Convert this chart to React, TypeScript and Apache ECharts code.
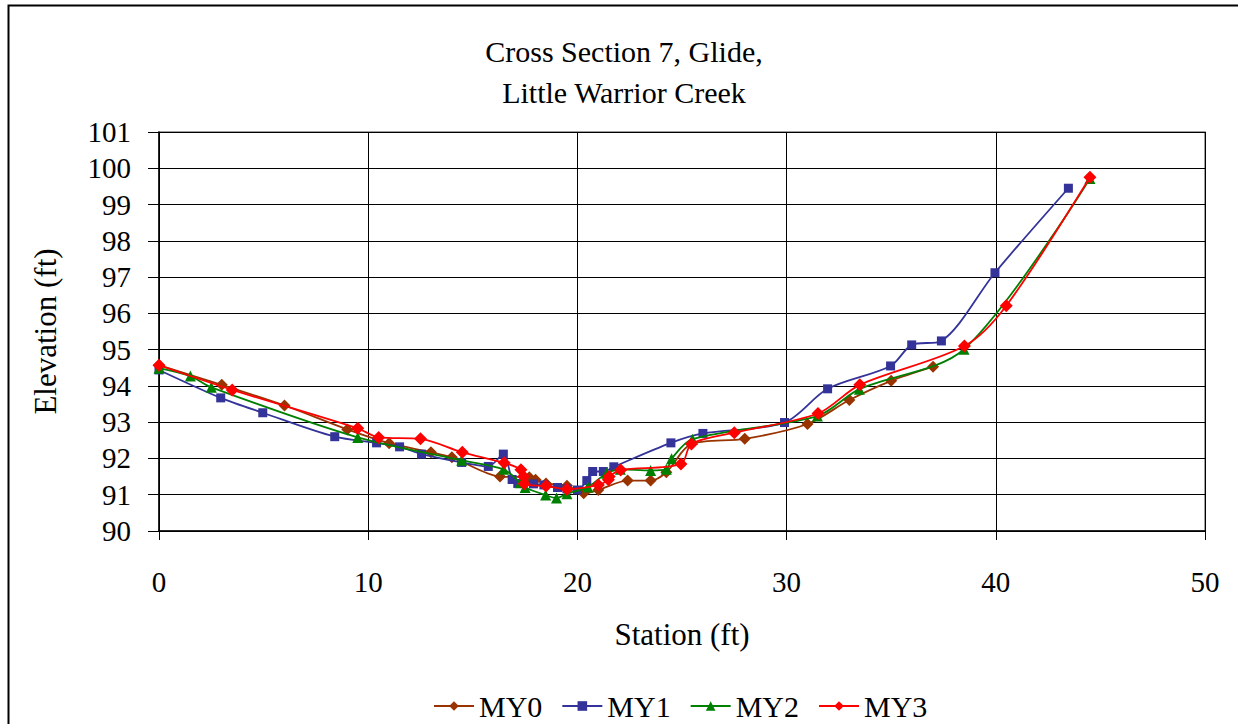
import React, { useEffect, useRef } from "react";
import * as echarts from "echarts";

const titleLines = ["Cross Section 7, Glide,", "Little Warrior Creek"];
const xTickMin = 0;
const xTickMax = 50;
const yTickMin = 90;
const yTickMax = 101;

const my0X = [0, 3, 6, 9, 11, 13, 14, 16.3, 17.7, 18, 18.5, 19.5, 20.3, 21, 22.4, 23.5, 24.25, 25.45, 28, 31, 33, 35, 37];
const my0Y = [94.57, 94.03, 93.46, 92.8, 92.42, 92.17, 92.03, 91.5, 91.48, 91.41, 91.31, 91.25, 91.04, 91.13, 91.39, 91.39, 91.62, 92.4, 92.54, 92.95, 93.61, 94.14, 94.53];

const my1X = [0, 2.95, 4.96, 8.4, 10.4, 11.5, 12.55, 14.47, 15.74, 16.46, 16.88, 17.15, 17.9, 18.4, 19.05, 19.5, 20.0, 20.45, 20.73, 21.24, 21.74, 24.47, 26, 29.9, 31.96, 34.97, 35.98, 37.4, 39.96, 43.47];
const my1Y = [94.44, 93.67, 93.26, 92.6, 92.43, 92.32, 92.12, 91.89, 91.78, 92.12, 91.42, 91.31, 91.3, 91.27, 91.2, 91.16, 91.13, 91.39, 91.64, 91.64, 91.77, 92.43, 92.69, 92.99, 93.92, 94.55, 95.13, 95.24, 97.12, 99.45];

const my2X = [0, 1.5, 2.5, 9.5, 14.47, 16.47, 17.27, 17.5, 18.48, 19.0, 19.5, 20.5, 21.4, 22.05, 23.5, 24.25, 24.5, 25.5, 31.47, 33.48, 38.48, 44.5];
const my2Y = [94.49, 94.27, 93.96, 92.58, 91.95, 91.7, 91.33, 91.2, 90.99, 90.91, 91.03, 91.21, 91.59, 91.7, 91.67, 91.7, 91.99, 92.53, 93.17, 93.91, 95.01, 99.72];

const my3X = [0, 3.5, 9.5, 10.5, 12.5, 14.5, 16.5, 17.3, 17.43, 17.46, 18.5, 19.5, 21, 21.48, 21.52, 22.07, 24.95, 25.45, 27.5, 31.5, 33.5, 38.5, 40.5, 44.5];
const my3Y = [94.57, 93.89, 92.83, 92.58, 92.54, 92.17, 91.88, 91.69, 91.5, 91.3, 91.24, 91.15, 91.27, 91.41, 91.5, 91.68, 91.85, 92.4, 92.71, 93.24, 94.03, 95.1, 96.21, 99.75];

const seriesNames = ["MY0", "MY1", "MY2", "MY3"];
const seriesColors = ["#993300", "#333399", "#008000", "#FF0000"];
const seriesSymbols = ["diamond", "rect", "triangle", "diamond"];

const zip = (xs: number[], ys: number[]) => xs.map((x, i) => [x, ys[i]]);

export default function App() {
  const ref = useRef<HTMLDivElement>(null);
  useEffect(() => {
    if (!ref.current) return;
    const chart = echarts.init(ref.current, null, { renderer: "svg" });
    const font = "Liberation Serif";
    const data = [zip(my0X, my0Y), zip(my1X, my1Y), zip(my2X, my2Y), zip(my3X, my3Y)];
    const sizes = [12, 9, 11, 13];
    chart.setOption({
      animation: false,
      backgroundColor: "#ffffff",
      textStyle: { fontFamily: font, color: "#000" },
      title: {
        text: titleLines.join("\n"),
        left: 619,
        top: 26,
        textAlign: "center",
        textStyle: { fontFamily: font, fontSize: 30, fontWeight: "normal", lineHeight: 41, color: "#000" },
      },
      graphic: [
        {
          type: "rect",
          shape: { x: 8.5, y: 5.5, width: 1260, height: 760 },
          style: { fill: "none", stroke: "#000", lineWidth: 2 },
          silent: true,
        },
      ],
      legend: {
        bottom: -2,
        left: 428,
        itemWidth: 40,
        itemHeight: 12,
        itemGap: 19,
        textStyle: { fontFamily: font, fontSize: 30, color: "#000" },
        data: seriesNames,
      },
      grid: {
        left: 159,
        right: 33,
        top: 132,
        bottom: 193,
        show: true,
        borderColor: "#808080",
        borderWidth: 1.5,
      },
      xAxis: {
        type: "value",
        min: xTickMin,
        max: xTickMax,
        interval: 10,
        name: "Station (ft)",
        nameLocation: "middle",
        nameGap: 88,
        nameTextStyle: { fontFamily: font, fontSize: 31, color: "#000" },
        axisLine: { lineStyle: { color: "#000", width: 1.5 } },
        axisTick: { show: true, length: 9, inside: false, lineStyle: { color: "#000" } },
        axisLabel: { fontFamily: font, fontSize: 29, color: "#000", margin: 36 },
        splitLine: { show: true, lineStyle: { color: "#000", width: 1 } },
      },
      yAxis: {
        type: "value",
        min: yTickMin,
        max: yTickMax,
        interval: 1,
        name: "Elevation (ft)",
        nameLocation: "middle",
        nameGap: 98,
        nameTextStyle: { fontFamily: font, fontSize: 31, color: "#000" },
        axisLine: { show: true, lineStyle: { color: "#000", width: 1.5 } },
        axisTick: { show: true, length: 11, lineStyle: { color: "#000" } },
        axisLabel: { fontFamily: font, fontSize: 29, color: "#000", margin: 28 },
        splitLine: { show: true, lineStyle: { color: "#000", width: 1 } },
      },
      series: seriesNames.map((name, i) => ({
        name,
        type: "line",
        data: data[i],
        smooth: 0.3,
        symbol: seriesSymbols[i],
        symbolSize: sizes[i],
        lineStyle: { color: seriesColors[i], width: 1.8 },
        itemStyle: { color: seriesColors[i] },
        z: 2 + i,
      })),
    });
    return () => chart.dispose();
  }, []);
  return (
    <div
      ref={ref}
      style={{ position: "fixed", left: 0, top: 0, width: 1238, height: 724, background: "#fff" }}
    />
  );
}
